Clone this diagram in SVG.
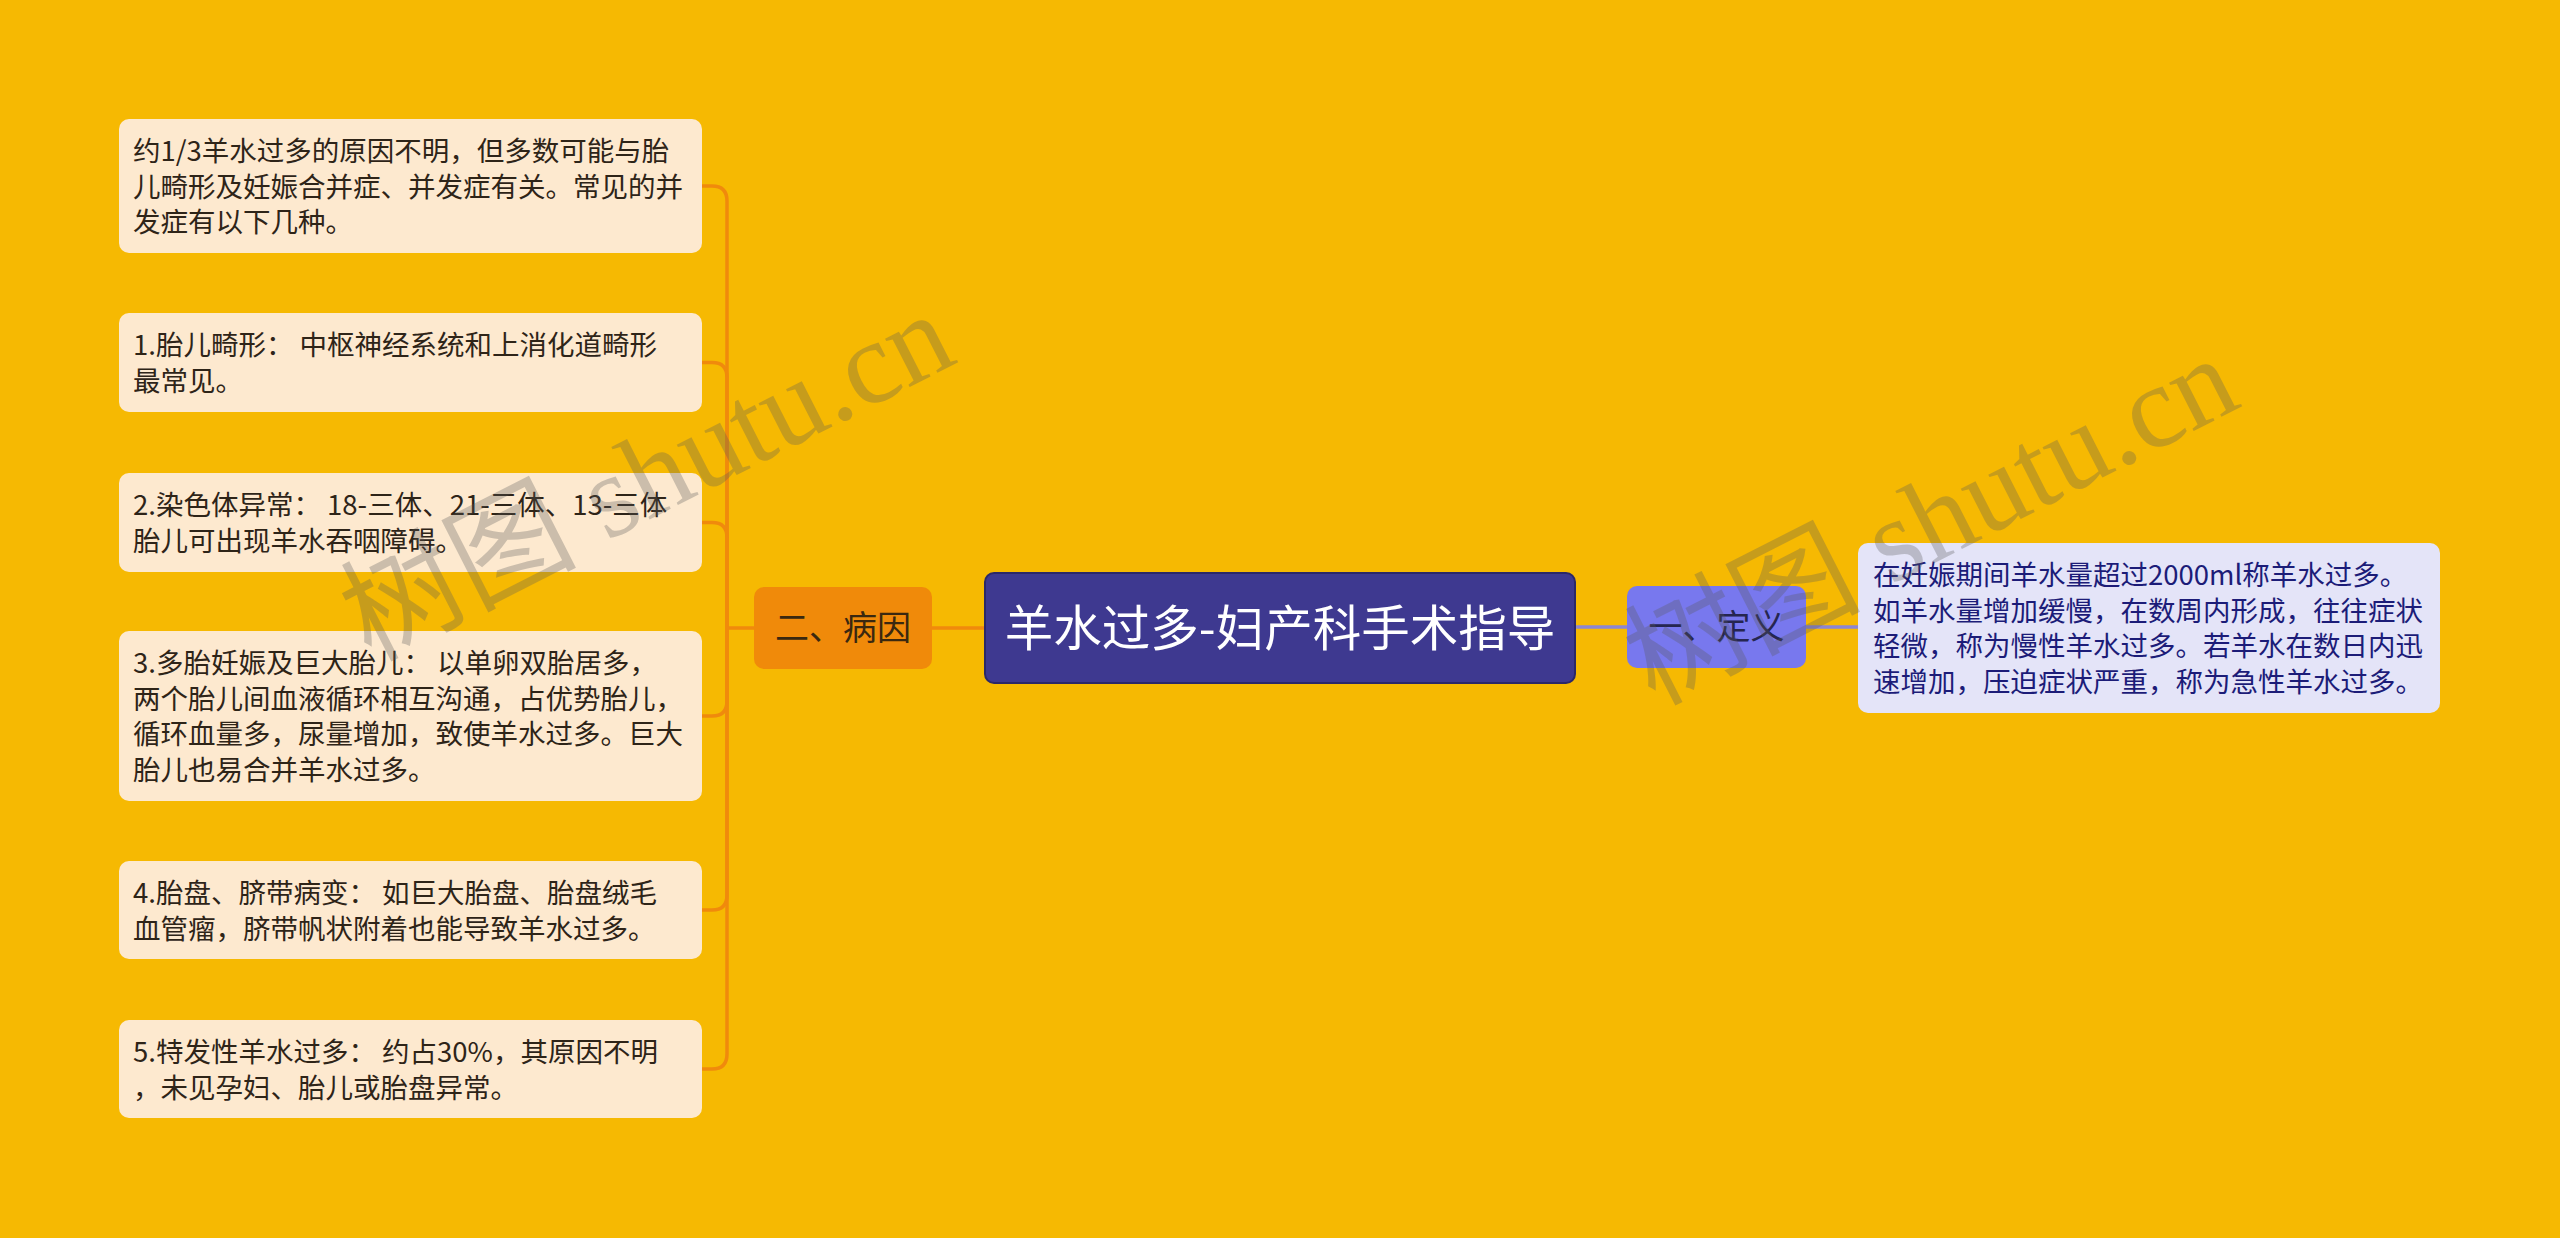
<svg xmlns="http://www.w3.org/2000/svg" width="2560" height="1238" viewBox="0 0 2560 1238">
<style>
.bg{fill:#f6b902}
.leaf{fill:#fde9cf}
.leaf-t{font-family:"Noto Sans CJK SC","Noto Sans",sans-serif;font-size:27.5px;fill:#2e2418}
.def{fill:#e4e4f8}
.def-t{font-family:"Noto Sans CJK SC","Noto Sans",sans-serif;font-size:27.5px;fill:#1c1c78}
.sub-t{font-family:"Noto Sans CJK SC","Noto Sans",sans-serif;font-size:34px;text-anchor:middle}
.root-t{font-family:"Noto Sans CJK SC","Noto Sans",sans-serif;font-size:48.5px;fill:#ffffff;text-anchor:middle}
.lc{fill:none;stroke:#f08a0c;stroke-width:3.5}
.rc{fill:none;stroke:#8c86d2;stroke-width:3.5}
.wm{font-family:"Liberation Serif","Noto Sans CJK SC",serif;font-size:118px;fill:#5a5a5a;opacity:0.3}
</style>
<rect class="bg" x="0" y="0" width="2560" height="1238"/>

<g id="connectors">
  <path class="lc" d="M755,628 H727"/>
  <path class="lc" d="M727,628 V201 Q727,186 712,186 H702"/>
  <path class="lc" d="M727,628 V377.5 Q727,362.5 712,362.5 H702"/>
  <path class="lc" d="M727,628 V537.5 Q727,522.5 712,522.5 H702"/>
  <path class="lc" d="M727,628 V701 Q727,716 712,716 H702"/>
  <path class="lc" d="M727,628 V895 Q727,910 712,910 H702"/>
  <path class="lc" d="M727,628 V1054 Q727,1069 712,1069 H702"/>
  <path class="lc" d="M932,628 H985"/>
  <path class="rc" d="M1575,627 H1627"/>
  <path class="rc" d="M1806,627 H1858"/>
</g>

<g id="root">
  <rect x="985" y="573" width="590" height="110" rx="9" fill="#3e3990" stroke="#2c2868" stroke-width="2"/>
  <text class="root-t" x="1280" y="646">羊水过多-妇产科手术指导</text>
</g>

<g id="cause">
  <rect x="754" y="587" width="178" height="82" rx="10" fill="#f08a0a"/>
  <text class="sub-t" x="843" y="640" fill="#3a2810">二、病因</text>
</g>

<g id="definition">
  <rect x="1627" y="586" width="179" height="82" rx="10" fill="#7878ee"/>
  <text class="sub-t" x="1716.5" y="639" fill="#262650">一、定义</text>
</g>

<g id="def-detail">
  <rect class="def" x="1858" y="543" width="582" height="170" rx="10"/>
  <text class="def-t">
    <tspan x="1873" y="585">在妊娠期间羊水量超过2000ml称羊水过多。</tspan>
    <tspan x="1873" y="620.5">如羊水量增加缓慢，在数周内形成，往往症状</tspan>
    <tspan x="1873" y="656">轻微，称为慢性羊水过多。若羊水在数日内迅</tspan>
    <tspan x="1873" y="691.5">速增加，压迫症状严重，称为急性羊水过多。</tspan>
  </text>
</g>

<g id="cause-intro">
  <rect class="leaf" x="119" y="119" width="583" height="134" rx="10"/>
  <text class="leaf-t">
    <tspan x="133" y="161">约1/3羊水过多的原因不明，但多数可能与胎</tspan>
    <tspan x="133" y="196.5">儿畸形及妊娠合并症、并发症有关。常见的并</tspan>
    <tspan x="133" y="232">发症有以下几种。</tspan>
  </text>
</g>

<g id="cause-1">
  <rect class="leaf" x="119" y="313" width="583" height="99" rx="10"/>
  <text class="leaf-t">
    <tspan x="133" y="355">1.胎儿畸形： 中枢神经系统和上消化道畸形</tspan>
    <tspan x="133" y="390.5">最常见。</tspan>
  </text>
</g>

<g id="cause-2">
  <rect class="leaf" x="119" y="473" width="583" height="99" rx="10"/>
  <text class="leaf-t">
    <tspan x="133" y="515">2.染色体异常： 18-三体、21-三体、13-三体</tspan>
    <tspan x="133" y="550.5">胎儿可出现羊水吞咽障碍。</tspan>
  </text>
</g>

<g id="cause-3">
  <rect class="leaf" x="119" y="631" width="583" height="170" rx="10"/>
  <text class="leaf-t">
    <tspan x="133" y="673">3.多胎妊娠及巨大胎儿： 以单卵双胎居多，</tspan>
    <tspan x="133" y="708.5">两个胎儿间血液循环相互沟通，占优势胎儿，</tspan>
    <tspan x="133" y="744">循环血量多，尿量增加，致使羊水过多。巨大</tspan>
    <tspan x="133" y="779.5">胎儿也易合并羊水过多。</tspan>
  </text>
</g>

<g id="cause-4">
  <rect class="leaf" x="119" y="861" width="583" height="98" rx="10"/>
  <text class="leaf-t">
    <tspan x="133" y="903">4.胎盘、脐带病变： 如巨大胎盘、胎盘绒毛</tspan>
    <tspan x="133" y="938.5">血管瘤，脐带帆状附着也能导致羊水过多。</tspan>
  </text>
</g>

<g id="cause-5">
  <rect class="leaf" x="119" y="1020" width="583" height="98" rx="10"/>
  <text class="leaf-t">
    <tspan x="133" y="1062">5.特发性羊水过多： 约占30%，其原因不明</tspan>
    <tspan x="133" y="1097.5">，未见孕妇、胎儿或胎盘异常。</tspan>
  </text>
</g>

<g id="watermarks">
  <text class="wm" transform="translate(370,662) rotate(-27)">树图 shutu.cn</text>
  <text class="wm" transform="translate(1654,706) rotate(-27)">树图 shutu.cn</text>
</g>
</svg>
